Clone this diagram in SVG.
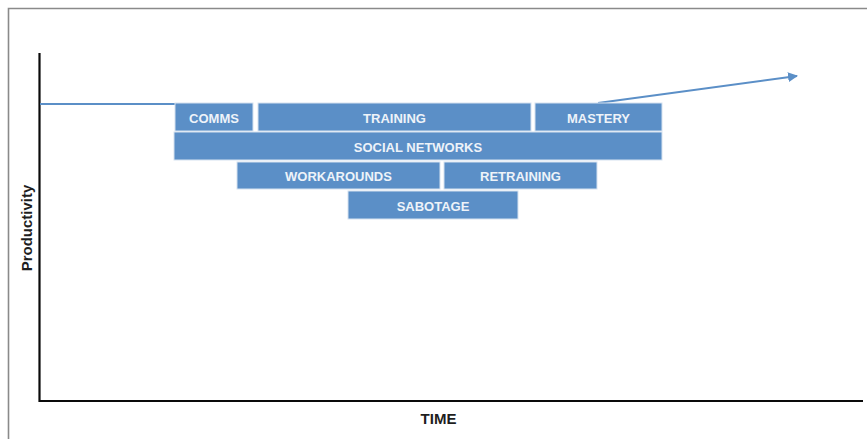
<svg xmlns="http://www.w3.org/2000/svg" width="867" height="439" viewBox="0 0 867 439">
  <defs>
    <style>
      .stage rect { fill: #5b8fc7; stroke: #d6e2f0; stroke-width: 1; }
      .stage text { font-family: "Liberation Sans", Arial, sans-serif; font-size: 13px; font-weight: bold; fill: #eef3f9; text-anchor: middle; }
      .axis { stroke: #0a0a0a; stroke-width: 2.2; fill: none; }
      .trend { stroke: #5b8fc7; stroke-width: 2; fill: none; }
      .label { font-family: "Liberation Sans", Arial, sans-serif; font-size: 15px; font-weight: bold; fill: #1e1e1e; text-anchor: middle; }
    </style>
    <marker id="arrowhead" viewBox="0 0 10 10" refX="9" refY="5" markerWidth="5" markerHeight="5" orient="auto" markerUnits="strokeWidth">
      <path d="M0,0 L10,5 L0,10 Z" fill="#5b8fc7"/>
    </marker>
  </defs>

  <rect x="0" y="0" width="867" height="439" fill="#ffffff"/>

  <!-- outer frame -->
  <path d="M8.5,439 L8.5,8.5 L867,8.5" fill="none" stroke="#8a8a8a" stroke-width="1.6"/>

  <!-- axes -->
  <g id="axes">
    <path class="axis" d="M39.5,53 L39.5,401 L863,401"/>
    <text class="label" x="438.5" y="424">TIME</text>
    <text class="label" transform="translate(32,228) rotate(-90)">Productivity</text>
  </g>

  <!-- connectors -->
  <g id="connectors">
    <path class="trend" d="M40,104 L175,104"/>
    <path class="trend" d="M598,103 L797,76" marker-end="url(#arrowhead)"/>
  </g>

  <!-- stages -->
  <g id="comms" class="stage">
    <rect x="175" y="103" width="78" height="28"/>
    <text x="214" y="123">COMMS</text>
  </g>
  <g id="training" class="stage">
    <rect x="258" y="103" width="273" height="28"/>
    <text x="394.5" y="123">TRAINING</text>
  </g>
  <g id="mastery" class="stage">
    <rect x="535" y="103" width="127" height="28"/>
    <text x="598.5" y="123">MASTERY</text>
  </g>
  <g id="social-networks" class="stage">
    <rect x="174" y="132" width="488" height="28"/>
    <text x="418" y="152">SOCIAL NETWORKS</text>
  </g>
  <g id="workarounds" class="stage">
    <rect x="237" y="162" width="203" height="27"/>
    <text x="338.5" y="181">WORKAROUNDS</text>
  </g>
  <g id="retraining" class="stage">
    <rect x="444" y="162" width="153" height="27"/>
    <text x="520.5" y="181">RETRAINING</text>
  </g>
  <g id="sabotage" class="stage">
    <rect x="348" y="191" width="170" height="28"/>
    <text x="433" y="211">SABOTAGE</text>
  </g>
</svg>
